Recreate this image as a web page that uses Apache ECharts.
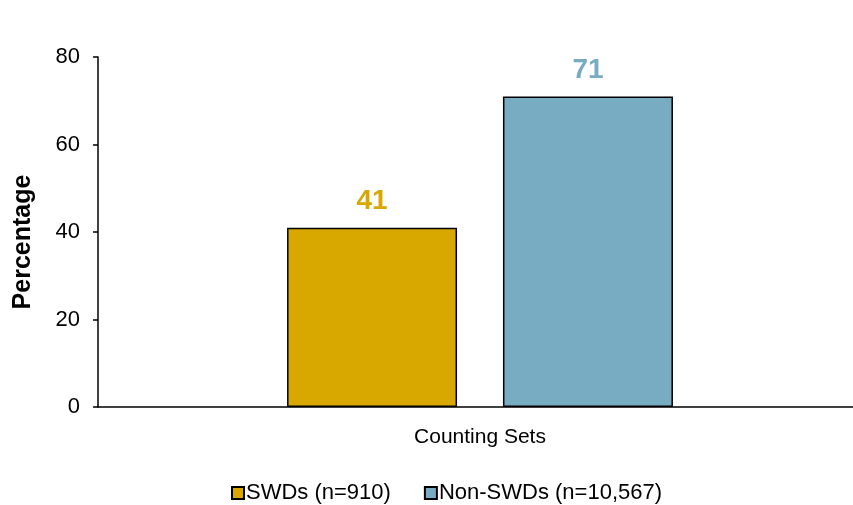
<!DOCTYPE html>
<html><head><meta charset="utf-8">
<script src="https://cdn.jsdelivr.net/npm/echarts@6/dist/echarts.min.js"></script>
<style>html,body{margin:0;padding:0;background:#fff;overflow:hidden}#c{width:870px;height:505px}</style>
</head><body><div id="c"></div>
<script>
const categories = ['Counting Sets'];
const seriesNames = ['SWDs (n=910)', 'Non-SWDs (n=10,567)'];
const swdValues = [41];
const nonSwdValues = [71];
const colors = ['#D9A800', '#78ACC3'];
const yTicks = [0, 20, 40, 60, 80];
const yTitle = 'Percentage';

const chart = echarts.init(document.getElementById('c'));
const font = 'Liberation Sans, Arial, sans-serif';
chart.setOption({
  animation: false,
  grid: { left: 98, top: 57, width: 764, height: 350, containLabel: false },
  graphic: [{
    type: 'text', x: 23, y: 242, rotation: Math.PI / 2,
    style: { text: yTitle, fontFamily: font, fontSize: 25, fontWeight: 'bold', fill: '#000',
             textAlign: 'center', textVerticalAlign: 'middle' }
  }],
  legend: {
    data: seriesNames,
    top: 477, left: 226,
    itemWidth: 12, itemHeight: 12, itemGap: 33,
    icon: 'rect',
    textStyle: { fontFamily: font, fontSize: 22, color: '#000', padding: [0,0,0,-3] },
    selectedMode: false
  },
  xAxis: {
    type: 'category', data: categories,
    axisLine: { lineStyle: { color: '#000', width: 1.5 } },
    axisTick: { show: false },
    axisLabel: { fontFamily: font, fontSize: 21, color: '#000', margin: 20 }
  },
  yAxis: {
    type: 'value', min: yTicks[0], max: yTicks[yTicks.length-1], interval: 20,
    axisLine: { show: true, lineStyle: { color: '#000', width: 1.5 } },
    axisTick: { show: true, length: 5, lineStyle: { color: '#000', width: 1.5 } },
    axisLabel: { fontFamily: font, fontSize: 22, color: '#000', margin: 18 },
    splitLine: { show: false }
  },
  series: [
    { name: seriesNames[0], type: 'bar', data: swdValues, barWidth: 170, barGap: '27%',
      itemStyle: { color: colors[0], borderColor: '#000', borderWidth: 1.5 },
      label: { show: true, position: 'top', distance: 12, fontFamily: font, fontSize: 28, fontWeight: 'bold', color: colors[0] } },
    { name: seriesNames[1], type: 'bar', data: nonSwdValues, barWidth: 170,
      itemStyle: { color: colors[1], borderColor: '#000', borderWidth: 1.5 },
      label: { show: true, position: 'top', distance: 12, fontFamily: font, fontSize: 28, fontWeight: 'bold', color: colors[1] } }
  ]
});
</script></body></html>
